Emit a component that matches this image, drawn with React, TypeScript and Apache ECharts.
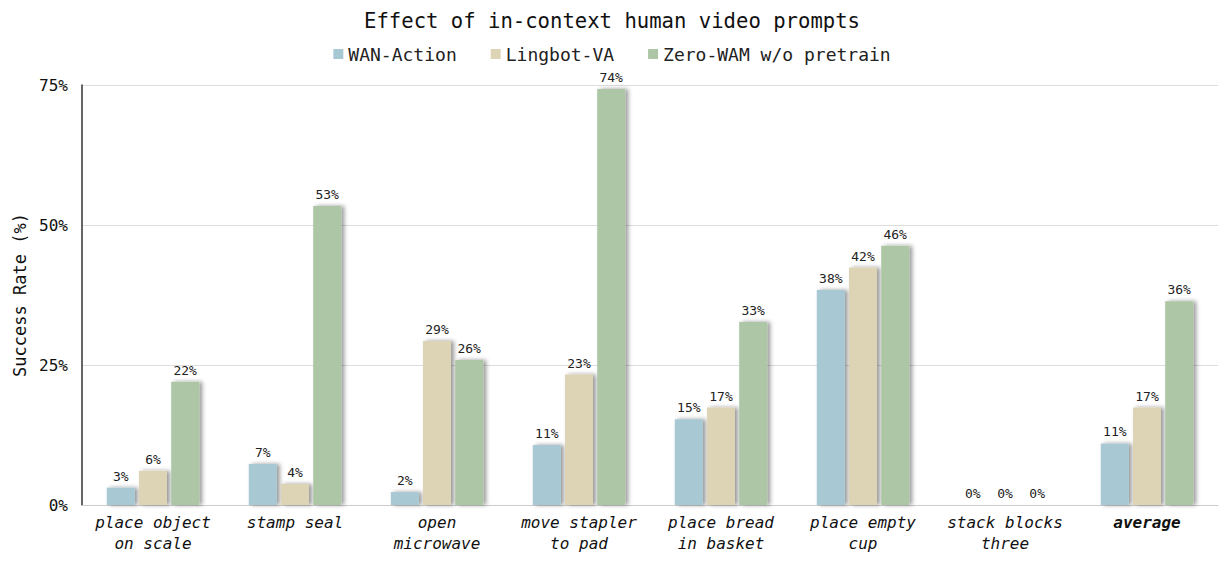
import React, { useEffect, useRef } from 'react';
import * as echarts from 'echarts';

const categories = [
  'place object\non scale',
  'stamp seal',
  'open\nmicrowave',
  'move stapler\nto pad',
  'place bread\nin basket',
  'place empty\ncup',
  'stack blocks\nthree',
  'average',
];

const seriesNames = ['WAN-Action', 'Lingbot-VA', 'Zero-WAM w/o pretrain'];
const wanAction = [3.1, 7.3, 2.3, 10.7, 15.3, 38.4, 0, 11.0];
const lingbotVA = [6.1, 3.75, 29.3, 23.3, 17.4, 42.4, 0, 17.4];
const zeroWam = [22.0, 53.4, 25.9, 74.3, 32.7, 46.3, 0, 36.4];
const colors = ['#a8c9d4', '#ddd4b6', '#adc7a6'];
const yTicks = [0, 25, 50, 75];

const MONO = '"DejaVu Sans Mono", "Liberation Mono", monospace';

const App: React.FC = () => {
  const chartRef = useRef<HTMLDivElement | null>(null);

  useEffect(() => {
    document.body.style.margin = '0';
    if (!chartRef.current) return;
    const chart = echarts.init(chartRef.current, undefined, { renderer: 'svg' });

    const values = [wanAction, lingbotVA, zeroWam];

    const option = {
      animation: false,
      backgroundColor: '#ffffff',
      title: {
        text: 'Effect of in-context human video prompts',
        left: 'center',
        top: 5,
        textStyle: { fontFamily: MONO, fontSize: 20.6, fontWeight: 'normal', color: '#111' },
      },
      legend: {
        top: 40,
        left: 'center',
        itemWidth: 10,
        itemHeight: 10,
        itemGap: 34,
        icon: 'rect',
        textStyle: { fontFamily: MONO, fontSize: 18, color: '#222' },
        data: seriesNames,
      },
      grid: { left: 82, right: 6, top: 85, bottom: 56, containLabel: false },
      xAxis: {
        type: 'category',
        data: categories.map((c) =>
          c === 'average' ? { value: c, textStyle: { fontWeight: 'bold' } } : c
        ),
        axisLine: { lineStyle: { color: '#cccccc', width: 1 } },
        axisTick: { show: false },
        axisLabel: {
          fontFamily: MONO,
          fontStyle: 'italic',
          fontSize: 16,
          color: '#111',
          lineHeight: 21,
          margin: 7,
          interval: 0,
        },
      },
      yAxis: {
        type: 'value',
        min: yTicks[0],
        max: yTicks[yTicks.length - 1],
        interval: 25,
        name: 'Success Rate (%)',
        nameLocation: 'middle',
        nameGap: 49,
        nameTextStyle: { fontFamily: MONO, fontSize: 17, color: '#111' },
        axisLine: { show: true, lineStyle: { color: '#333', width: 1.5 } },
        axisTick: { show: false },
        axisLabel: {
          fontFamily: MONO,
          fontSize: 16,
          color: '#111',
          margin: 14,
          formatter: '{value}%',
        },
        splitLine: { show: true, lineStyle: { color: '#dddddd', width: 1 } },
      },
      series: seriesNames.map((name, i) => ({
        name,
        type: 'bar',
        data: values[i],
        barWidth: 28,
        barGap: '15%',
        itemStyle: {
          color: colors[i],
          shadowColor: 'rgba(0,0,0,0.4)',
          shadowBlur: 4,
          shadowOffsetX: 3,
          shadowOffsetY: 0,
        },
        label: {
          show: true,
          position: 'top',
          distance: 5,
          fontFamily: MONO,
          fontSize: 13,
          color: '#222',
          formatter: (p: any) => Math.round(p.value) + '%',
        },
      })),
    };

    chart.setOption(option);
    return () => {
      chart.dispose();
    };
  }, []);

  return <div ref={chartRef} style={{ width: 1224, height: 561 }} />;
};

export default App;
